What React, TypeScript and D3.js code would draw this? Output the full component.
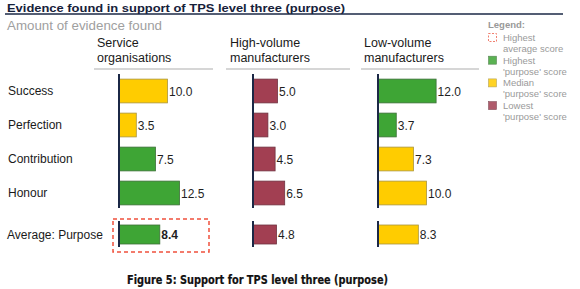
import React from "react";
import * as d3 from "d3";

const categories = ["Success", "Perfection", "Contribution", "Honour"];
const averageLabel = "Average: Purpose";
const groups = ["Service\norganisations", "High-volume\nmanufacturers", "Low-volume\nmanufacturers"];
const serviceValues = [10.0, 3.5, 7.5, 12.5];
const highVolumeValues = [5.0, 3.0, 4.5, 6.5];
const lowVolumeValues = [12.0, 3.7, 7.3, 10.0];
const averages = [8.4, 4.8, 8.3];
const serviceRanks = ["median", "median", "high", "high"];
const highVolumeRanks = ["low", "low", "low", "low"];
const lowVolumeRanks = ["high", "high", "median", "median"];
const averageRanks = ["high", "low", "median"];
const highestAverageGroup = 0;
const legendItems = [
  { key: "dashed", lines: ["Highest", "average score"] },
  { key: "high", lines: ["Highest", "'purpose' score"] },
  { key: "median", lines: ["Median", "'purpose' score"] },
  { key: "low", lines: ["Lowest", "'purpose' score"] },
];

const W = 580;
const H = 289;
const FONT = "'Liberation Sans', Arial, sans-serif";
const fills: Record<string, string> = { high: "#3ea535", median: "#ffcc00", low: "#a23f52" };
const strokes: Record<string, string> = { high: "#3c6f38", median: "#a89440", low: "#6e3340" };
const NAVY = "#1b2846";

const groupValues = [serviceValues, highVolumeValues, lowVolumeValues];
const groupRanks = [serviceRanks, highVolumeRanks, lowVolumeRanks];
const axisX = [119, 253, 378];
const headerX = [97, 230, 364];
const ruleX = [
  [94, 213],
  [226, 350],
  [361, 479],
];

export default function App() {
  const x = d3.scaleLinear().domain([0, 10]).range([0, 48]);
  const y = d3
    .scaleBand<string>()
    .domain(categories)
    .range([74, 210])
    .paddingInner(0.3)
    .paddingOuter(0.15);
  const avgY = 225;
  const avgH = 19;
  const fmt = d3.format(".1f");

  return (
    <svg
      width={W}
      height={H}
      style={{ position: "absolute", left: 0, top: 0, background: "#fff" }}
      fontFamily={FONT}
    >
      <rect x={0} y={0} width={W} height={H} fill="#fff" />
      {/* Title */}
      <text x={7} y={11.5} fontSize={11.5} fontWeight="bold" fill="#16213a" textLength={338} lengthAdjust="spacingAndGlyphs">
        Evidence found in support of TPS level three (purpose)
      </text>
      <line x1={5} x2={563} y1={14} y2={14} stroke={NAVY} strokeWidth={1.3} />
      <text x={7} y={30} fontSize={12} fill="#a0a0a0" textLength={155} lengthAdjust="spacingAndGlyphs">
        Amount of evidence found
      </text>

      {/* Row labels */}
      {categories.map((c) => (
        <text key={c} x={8} y={(y(c) as number) + y.bandwidth() / 2 + 4} fontSize={12} fill="#1a1a1a">
          {c}
        </text>
      ))}
      <text x={7} y={avgY + avgH / 2 + 4} fontSize={12} fill="#1a1a1a">
        {averageLabel}
      </text>

      {/* Groups */}
      {groups.map((g, gi) => {
        const ax = axisX[gi];
        const lines = g.split("\n");
        return (
          <g key={g}>
            {lines.map((l, li) => (
              <text key={li} x={headerX[gi]} y={47 + li * 15} fontSize={12.5} fill="#1a1a1a">
                {l}
              </text>
            ))}
            <line x1={ruleX[gi][0]} x2={ruleX[gi][1]} y1={69} y2={69} stroke="#c8c8c8" strokeWidth={1.5} />
            {groupValues[gi].map((v, i) => {
              const by = y(categories[i]) as number;
              const r = groupRanks[gi][i];
              return (
                <g key={i}>
                  <rect
                    x={ax + 0.5}
                    y={by}
                    width={x(v)}
                    height={y.bandwidth()}
                    fill={fills[r]}
                    stroke={strokes[r]}
                    strokeWidth={0.8}
                  />
                  <text x={ax + x(v) + 2} y={by + y.bandwidth() / 2 + 4.5} fontSize={12} fill="#1f1f1f">
                    {fmt(v)}
                  </text>
                </g>
              );
            })}
            <line x1={ax} x2={ax} y1={74} y2={208} stroke={NAVY} strokeWidth={2} />
            <rect
              x={ax + 0.5}
              y={avgY}
              width={x(averages[gi])}
              height={avgH}
              fill={fills[averageRanks[gi]]}
              stroke={strokes[averageRanks[gi]]}
              strokeWidth={0.8}
            />
            <text
              x={ax + x(averages[gi]) + 2}
              y={avgY + avgH / 2 + 4.5}
              fontSize={12}
              fontWeight={gi === highestAverageGroup ? "bold" : "normal"}
              fill="#1f1f1f"
            >
              {fmt(averages[gi])}
            </text>
            <line x1={ax} x2={ax} y1={221} y2={247} stroke={NAVY} strokeWidth={2} />
            {gi === highestAverageGroup && (
              <rect
                x={113}
                y={219}
                width={96}
                height={33}
                fill="none"
                stroke="#f0503c"
                strokeWidth={1.5}
                strokeDasharray="4,3"
              />
            )}
          </g>
        );
      })}

      {/* Legend */}
      <text x={488} y={28} fontSize={9.5} fontWeight="bold" fill="#999">
        Legend:
      </text>
      {legendItems.map((it, i) => {
        const top = 33 + i * 22.7;
        return (
          <g key={it.key}>
            {it.key === "dashed" ? (
              <rect x={488.5} y={top + 0.5} width={8} height={8} fill="none" stroke="#f08070" strokeWidth={1} strokeDasharray="2,1.5" />
            ) : (
              <rect x={488.5} y={top + 0.5} width={8} height={8} fill={fills[it.key]} stroke={strokes[it.key]} strokeWidth={0.6} opacity={0.85} />
            )}
            {it.lines.map((l, li) => (
              <text key={li} x={503} y={top + 8 + li * 11} fontSize={9.5} fill="#9a9a9a">
                {l}
              </text>
            ))}
          </g>
        );
      })}

      {/* Caption */}
      <text
        x={127}
        y={283.5}
        fontSize={11.5}
        fontWeight="bold"
        fill="#111"
        stroke="#111"
        strokeWidth={0.2}
        fontFamily="'DejaVu Sans Condensed', 'DejaVu Sans', Verdana, sans-serif"
        fontStretch="condensed"
        textLength={261}
        lengthAdjust="spacingAndGlyphs"
      >
        Figure 5: Support for TPS level three (purpose)
      </text>
    </svg>
  );
}
